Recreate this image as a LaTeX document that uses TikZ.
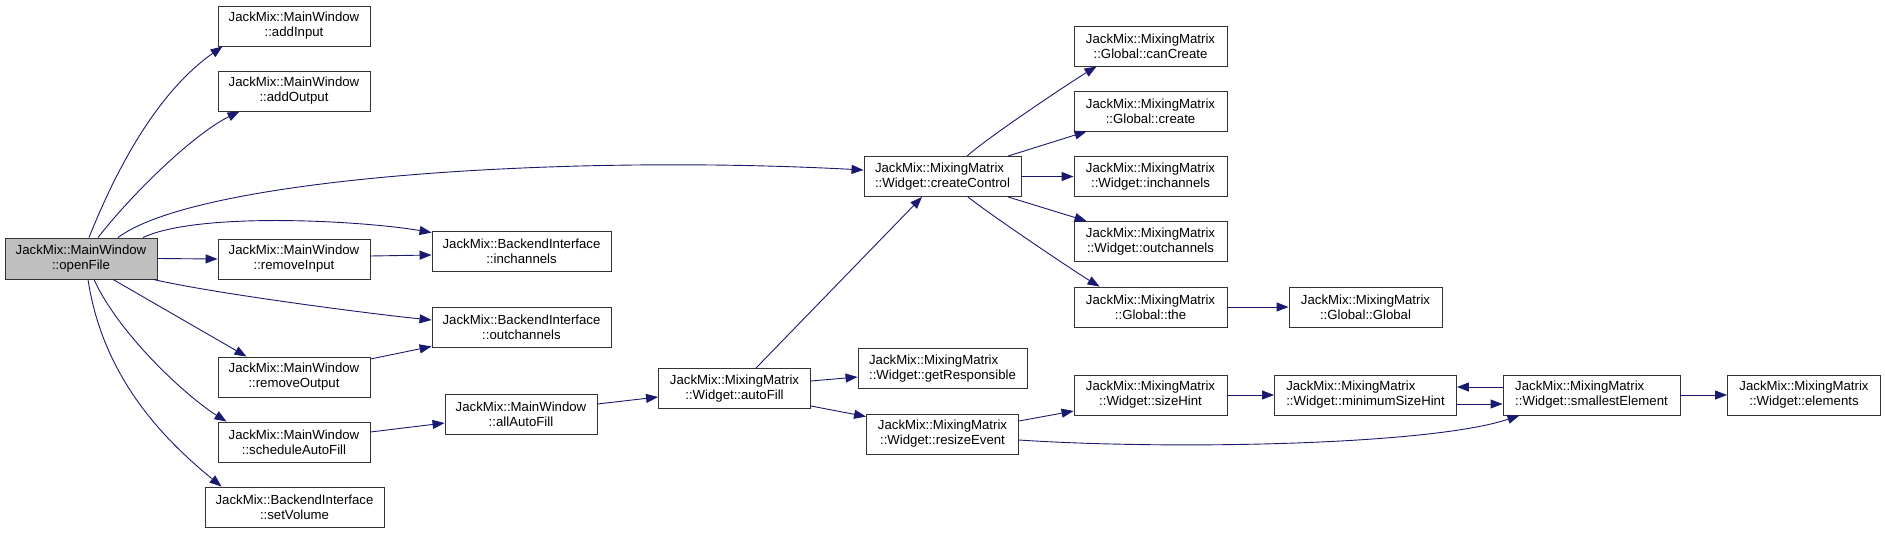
\documentclass[tikz,border=0pt]{standalone}
\usepackage{fontspec}
\setmainfont{Liberation Sans}
\usetikzlibrary{arrows.meta}
\definecolor{edgeblue}{HTML}{191970}
\definecolor{ofgray}{HTML}{BFBFBF}
\begin{document}
\begin{tikzpicture}[x=1pt,y=-1pt,
  fn/.style={draw=black!80, line width=0.9pt, fill=white, inner sep=0pt,
    minimum height=40pt, align=center, font=\fontsize{13.2}{15}\selectfont},
  fnl/.style={fn, align=left},
  cur/.style={fn, fill=ofgray},
  edge/.style={draw=edgeblue, line width=0.9pt, -{Triangle[length=12pt,width=9pt]}}]
\useasboundingbox (0,0) rectangle (1885,533);

\node[cur, minimum width=152pt, minimum height=41pt] (of) at (81,258.5) {JackMix::MainWindow\\::openFile};
\node[fn, minimum width=152pt] (addIn) at (294,26) {JackMix::MainWindow\\::addInput};
\node[fn, minimum width=152pt] (addOut) at (294,91) {JackMix::MainWindow\\::addOutput};
\node[fn, minimum width=152pt] (remIn) at (294,259) {JackMix::MainWindow\\::removeInput};
\node[fn, minimum width=179pt] (biin) at (521.5,251) {JackMix::BackendInterface\\::inchannels};
\node[fn, minimum width=179pt] (biout) at (521.5,327) {JackMix::BackendInterface\\::outchannels};
\node[fn, minimum width=152pt] (remOut) at (294,377) {JackMix::MainWindow\\::removeOutput};
\node[fn, minimum width=152pt] (sched) at (294,442) {JackMix::MainWindow\\::scheduleAutoFill};
\node[fn, minimum width=179pt] (setVol) at (294.5,507) {JackMix::BackendInterface\\::setVolume};
\node[fn, minimum width=152pt] (allAF) at (521,414) {JackMix::MainWindow\\::allAutoFill};
\node[fn, minimum width=152pt] (autoFill) at (734.5,388.5) {JackMix::MixingMatrix\\::Widget::autoFill};
\node[fnl, minimum width=157pt] (cc) at (942.5,176.5) {JackMix::MixingMatrix\\::Widget::createControl};
\node[fn, minimum width=153pt] (canCreate) at (1150.5,46) {JackMix::MixingMatrix\\::Global::canCreate};
\node[fn, minimum width=153pt] (create) at (1150.5,111) {JackMix::MixingMatrix\\::Global::create};
\node[fn, minimum width=153pt] (winch) at (1150.5,176.5) {JackMix::MixingMatrix\\::Widget::inchannels};
\node[fn, minimum width=153pt] (woutch) at (1150.5,241.5) {JackMix::MixingMatrix\\::Widget::outchannels};
\node[fn, minimum width=153pt] (the) at (1150.5,307) {JackMix::MixingMatrix\\::Global::the};
\node[fn, minimum width=153pt] (global) at (1365.5,307) {JackMix::MixingMatrix\\::Global::Global};
\node[fnl, minimum width=169pt] (getResp) at (942.5,368.5) {JackMix::MixingMatrix\\::Widget::getResponsible};
\node[fn, minimum width=152pt] (resize) at (942.5,434) {JackMix::MixingMatrix\\::Widget::resizeEvent};
\node[fn, minimum width=153pt] (sizeHint) at (1150.5,395) {JackMix::MixingMatrix\\::Widget::sizeHint};
\node[fnl, minimum width=182pt] (minSH) at (1365.5,395) {JackMix::MixingMatrix\\::Widget::minimumSizeHint};
\node[fnl, minimum width=177pt] (smallest) at (1591.5,395) {JackMix::MixingMatrix\\::Widget::smallestElement};
\node[fn, minimum width=153pt] (elements) at (1804,395) {JackMix::MixingMatrix\\::Widget::elements};

% edges from openFile
\draw[edge] ([xshift=8pt]of.north) .. controls +(40,-100) and +(-50,35) .. ([xshift=5pt]addIn.south west);
\draw[edge] ([xshift=17pt]of.north) .. controls +(35,-45) and +(-45,22) .. ([xshift=22pt]addOut.south west);
\draw[edge] ([xshift=37pt]of.north) .. controls +(80,-60) and +(-300,-16) .. ([yshift=6.5pt]cc.west);
\draw[edge] ([xshift=62pt]of.north) .. controls +(55,-26) and +(-70,-12) .. ([yshift=-2pt]biin.north west);
\draw[edge] (of.east) -- (remIn.west);
\draw[edge] ([xshift=-4pt]of.south east) .. controls +(60,14) and +(-60,-6) .. ([yshift=7pt]biout.west);
\draw[edge] ([xshift=32pt]of.south) -- ([xshift=29pt]remOut.north west);
\draw[edge] ([xshift=13pt]of.south) .. controls +(25,55) and +(-40,-25) .. ([xshift=9pt]sched.north west);
\draw[edge] ([xshift=7pt]of.south) .. controls +(15,100) and +(-55,-45) .. ([xshift=17pt]setVol.north west);

% middle
\draw[edge] ([yshift=3pt]remIn.east) -- ([yshift=-4pt]biin.west);
\draw[edge] ([yshift=18pt]remOut.east) -- ([yshift=1pt]biout.south west);
\draw[edge] ([yshift=10pt]sched.east) -- ([yshift=-9pt]allAF.west);
\draw[edge] ([yshift=10pt]allAF.east) -- ([yshift=-8.5pt]autoFill.west);
\draw[edge] ([xshift=21.5pt]autoFill.north) -- ([xshift=-20.5pt]cc.south);
\draw[edge] ([yshift=7.5pt]autoFill.east) -- ([yshift=-8.5pt]getResp.west);
\draw[edge] ([yshift=-17.5pt]autoFill.east) -- ([yshift=-3pt]resize.north west);

% createControl
\draw[edge] ([xshift=24.5pt]cc.north) .. controls +(25,-22) and +(-20,12) .. ([xshift=23pt]canCreate.south west);
\draw[edge] ([xshift=65.5pt]cc.north) -- ([xshift=13pt]create.south west);
\draw[edge] (cc.east) -- (winch.west);
\draw[edge] ([xshift=65.5pt]cc.south) -- ([xshift=13pt]woutch.north west);
\draw[edge] ([xshift=25.5pt]cc.south) .. controls +(25,20) and +(-20,-12) .. ([xshift=26pt]the.north west);
\draw[edge] (the.east) -- (global.west);

% resizeEvent and sizes
\draw[edge] ([yshift=13pt]resize.east) -- ([yshift=-16pt]sizeHint.west);
\draw[edge] ([yshift=-6pt]resize.east) .. controls +(150,10) and +(-90,30) .. ([xshift=-72pt]smallest.south);
\draw[edge] (sizeHint.east) -- (minSH.west);
\draw[edge] ([yshift=-9pt]minSH.east) -- ([yshift=-9pt]smallest.west);
\draw[edge] ([yshift=8pt]smallest.west) -- ([yshift=8pt]minSH.east);
\draw[edge] (smallest.east) -- (elements.west);
\end{tikzpicture}
\end{document}
